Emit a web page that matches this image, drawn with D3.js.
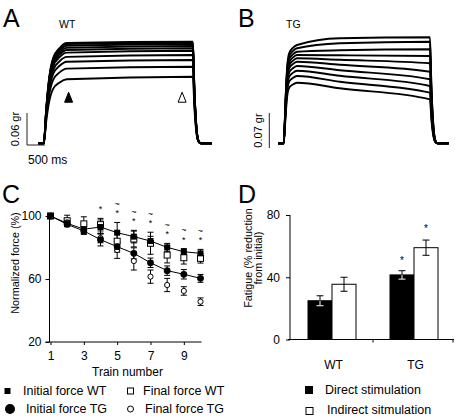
<!DOCTYPE html>
<html><head><meta charset="utf-8">
<script src="https://cdn.jsdelivr.net/npm/d3@7"></script>
<style>
body{margin:0;background:#fff}
text{font-family:"Liberation Sans",Arial,Helvetica,sans-serif;fill:#000}
</style>
</head><body>
<svg id="fig" width="455" height="418"></svg>
<script>
// ---------- Panel A / B : force traces (gr) ----------
const riseTimesA = [160, 230, 300, 420, 600, 800];
const riseFracA  = [0, 0.35, 0.62, 0.85, 0.95, 1];
const riseTimesB = [160, 220, 260, 320, 420, 537];
const riseFracB  = [0, 0.5, 0.78, 0.92, 0.97, 1];
const fallTimes  = [4300, 4340, 4400, 4460, 4520, 4830];
const fallFrac   = [1, 0.55, 0.15, 0.02, 0, 0];
const wtStart = [0.188, 0.186, 0.183, 0.179, 0.175, 0.170, 0.162, 0.153, 0.140, 0.120];
const wtEnd   = [0.1905, 0.1886, 0.1862, 0.1824, 0.1781, 0.1736, 0.1656, 0.1562, 0.1436, 0.1249];
const tgStart = [0.1966, 0.190, 0.1832, 0.1766, 0.170, 0.1632, 0.1546, 0.1452, 0.1346, 0.1212];
const tgMid   = [0.210, 0.200, 0.186, 0.176, 0.167, 0.157, 0.146, 0.135, 0.123, 0.110];
const tgEnd   = [0.212, 0.2032, 0.188, 0.1746, 0.160, 0.1432, 0.128, 0.1146, 0.1012, 0.088];
const arrowTimes = [850, 4000];

// ---------- Panel C ----------
const trains = [1,2,3,4,5,6,7,8,9,10];
const initialWT    = [100, 95.4, 91.6, 93.0, 89.4, 86.9, 84.1, 80.1, 77.3, 76.3];
const initialWTErr = [0, 2, 3, 4.5, 6.5, 4, 3, 2.5, 2, 2.5];
const finalWT      = [100, 97.0, 95.0, 94.5, 84.0, 85.4, 82.7, 75.2, 73.5, 73.1];
const finalWTErr   = [0, 3.5, 4.5, 4, 6, 5, 7, 5, 4, 3];
const initialTG    = [100, 94.7, 90.5, 85.0, 80.5, 76.3, 70.3, 65.3, 63.0, 60.4];
const initialTGErr = [0, 1.5, 2, 4, 3.5, 3.5, 3, 3, 3, 2.5];
const finalTG      = [100, 96.0, 91.0, 86.0, 78.4, 71.4, 61.5, 56.2, 52.4, 45.6];
const finalTGErr   = [0, 2, 2.5, 3, 5.3, 5.7, 4.2, 4.2, 2.7, 2.4];
const starTrains  = [4,5,6,7,8,9,10];
const tildeTrains = [5,6,7,8,9,10];
const cTicksX = [1,3,5,7,9];
const cTicksY = [20,60,100];

// ---------- Panel D ----------
const groups = ["WT","TG"];
const direct = [24.9, 41.5];
const directErr = [3.2, 2.7];
const indirect = [35.5, 59.0];
const indirectErr = [4.5, 4.9];
const dStars = ["TG"];
const dTicksY = [0,40,80];

const svg = d3.select("#fig");

// ===== Panels A & B =====
const xA = d3.scaleLinear().domain([0,4830]).range([38,212]);
const yA = d3.scaleLinear().domain([0,0.06]).range([143.3,111.3]);
const xB = d3.scaleLinear().domain([0,4830]).range([278,448.7]);
const yB = d3.scaleLinear().domain([0,0.07]).range([143.3,108.3]);

function tracePts(riseT, riseF, plateau, end){
  const pts = [[0,0]];
  riseT.forEach((t,j)=>pts.push([t, plateau[0][1]*riseF[j]]));
  plateau.slice(1).forEach(p=>pts.push(p));
  fallTimes.slice(1).forEach((t,j)=>pts.push([t, end*fallFrac[j+1]]));
  return pts;
}
const gA = svg.append("g");
const lineA = d3.line().x(d=>xA(d[0])).y(d=>yA(d[1])).curve(d3.curveMonotoneX);
wtStart.forEach((s,i)=>{
  const pts = tracePts(riseTimesA, riseFracA, [[800,s],[4300,wtEnd[i]]], wtEnd[i]);
  gA.append("path").attr("d",lineA(pts)).attr("fill","none").attr("stroke","#000")
    .attr("stroke-width",1.9).attr("stroke-linejoin","round");
});
const gB = svg.append("g");
const lineB = d3.line().x(d=>xB(d[0])).y(d=>yB(d[1])).curve(d3.curveMonotoneX);
tgStart.forEach((s,i)=>{
  const pts = tracePts(riseTimesB, riseFracB, [[537,s],[1750,tgMid[i]],[4300,tgEnd[i]]], tgEnd[i]);
  gB.append("path").attr("d",lineB(pts)).attr("fill","none").attr("stroke","#000")
    .attr("stroke-width",1.9).attr("stroke-linejoin","round");
});
// arrows
arrowTimes.forEach((t,i)=>{
  const cx = xA(t), by = yA(0.077);
  svg.append("path").attr("d",`M${cx-4},${by}L${cx+4},${by}L${cx},${by-10}Z`)
    .attr("fill", i===0?"#000":"#fff").attr("stroke","#000").attr("stroke-width",1);
});
// scale bars
{
  const bot = yA(0)+1.7, h = yA(0)-yA(0.06), w = xA(500)-xA(0), x0 = 27;
  svg.append("path").attr("d",`M${x0},${bot-h}V${bot}H${x0+w}`).attr("fill","none").attr("stroke","#222").attr("stroke-width",1);
  svg.append("text").attr("transform",`translate(15,${bot-h/2}) rotate(-90)`).attr("text-anchor","middle")
    .attr("dy","0.35em").attr("font-size",11).text("0.06 gr");
  svg.append("text").attr("x",28).attr("y",160).attr("dy","0.35em").attr("font-size",12).text("500 ms");
}
{
  const bot = yB(0)+4.7, h = yB(0)-yB(0.07), x0 = 269.3;
  svg.append("path").attr("d",`M${x0},${bot-h}V${bot}`).attr("stroke","#222").attr("stroke-width",1);
  svg.append("text").attr("transform",`translate(258.3,${bot-h/2}) rotate(-90)`).attr("text-anchor","middle")
    .attr("dy","0.35em").attr("font-size",11).text("0.07 gr");
}
svg.append("text").attr("x",59).attr("y",28).attr("font-size",10.5).text("WT");
svg.append("text").attr("x",286).attr("y",28).attr("font-size",10.5).text("TG");

// panel letters
[["A",3,27],["B",238,27],["C",2,203],["D",238,203]].forEach(([t,x,y])=>
  svg.append("text").attr("x",x).attr("y",y).attr("font-size",25).text(t));

// ===== Panel C =====
const xC = d3.scaleLinear().domain([1,10]).range([50.5,200.5]);
const yC = d3.scaleLinear().domain([20,100]).range([342,216]);
const gC = svg.append("g");
gC.append("line").attr("x1",49.5).attr("x2",49.5).attr("y1",yC(100)).attr("y2",yC(20)).attr("stroke","#000");
gC.append("line").attr("x1",45.5).attr("x2",201.5).attr("y1",yC(20)).attr("y2",yC(20)).attr("stroke","#000");
const axY = gC.append("g").attr("transform","translate(49.5,0)")
  .call(d3.axisLeft(yC).tickValues(cTicksY).tickSize(4).tickPadding(4).tickSizeOuter(0));
const axX = gC.append("g").attr("transform",`translate(0,${yC(20)})`)
  .call(d3.axisBottom(xC).tickValues(cTicksX).tickFormat(d3.format("d")).tickSize(3).tickPadding(6).tickSizeOuter(0));
[axY,axX].forEach(a=>{a.select(".domain").remove(); a.selectAll("text").attr("font-size",12).attr("font-family","Liberation Sans, Arial, sans-serif");});
gC.append("text").attr("transform","translate(15,263) rotate(-90)").attr("text-anchor","middle")
  .attr("dy","0.35em").attr("font-size",10.8).text("Normalized force (%)");
gC.append("text").attr("x",127.5).attr("y",372).attr("text-anchor","middle").attr("dy","0.35em")
  .attr("font-size",12).text("Train number");

const seriesC = [
  {v:finalWT, e:finalWTErr},
  {v:finalTG, e:finalTGErr},
  {v:initialWT, e:initialWTErr},
  {v:initialTG, e:initialTGErr}
];
seriesC.forEach(s=>{
  trains.forEach((t,i)=>{
    if(!s.e[i]) return;
    const x = xC(t), y1 = yC(s.v[i]+s.e[i]), y2 = yC(s.v[i]-s.e[i]);
    gC.append("path").attr("d",`M${x},${y1}V${y2}M${x-3},${y1}H${x+3}M${x-3},${y2}H${x+3}`)
      .attr("stroke","#000").attr("stroke-width",1).attr("fill","none");
  });
});
const lineC = d3.line().x((d,i)=>xC(trains[i])).y(d=>yC(d));
gC.append("path").attr("d",lineC(initialWT)).attr("fill","none").attr("stroke","#000").attr("stroke-width",1);
gC.append("path").attr("d",lineC(initialTG)).attr("fill","none").attr("stroke","#000").attr("stroke-width",1);
trains.forEach((t,i)=>{
  gC.append("rect").attr("x",xC(t)-3).attr("y",yC(finalWT[i])-3).attr("width",6).attr("height",6)
    .attr("fill","#fff").attr("stroke","#000").attr("stroke-width",1);
  gC.append("circle").attr("cx",xC(t)).attr("cy",yC(finalTG[i])).attr("r",2.6)
    .attr("fill","#fff").attr("stroke","#000").attr("stroke-width",1);
});
trains.forEach((t,i)=>{
  gC.append("rect").attr("x",xC(t)-3).attr("y",yC(initialWT[i])-3).attr("width",6).attr("height",6).attr("fill","#000");
  gC.append("circle").attr("cx",xC(t)).attr("cy",yC(initialTG[i])).attr("r",3.4).attr("fill","#000");
});
function topCap(t){
  const i = trains.indexOf(t);
  return Math.max(initialWT[i]+initialWTErr[i], finalWT[i]+finalWTErr[i]);
}
starTrains.forEach(t=>{
  const cy = yC(topCap(t)) - 11;
  gC.append("text").attr("x",xC(t)).attr("y",cy+5).attr("text-anchor","middle").attr("font-size",9).text("*");
  if(tildeTrains.includes(t))
    gC.append("text").attr("x",xC(t)).attr("y",cy-7.5+3).attr("text-anchor","middle").attr("font-size",9).text("~");
});

// legend C
const lg = svg.append("g").attr("font-size",12.5);
lg.append("rect").attr("x",4.5).attr("y",388).attr("width",6).attr("height",6).attr("fill","#000");
lg.append("text").attr("x",23).attr("y",391).attr("dy","0.35em").text("Initial force WT");
lg.append("rect").attr("x",127.5).attr("y",388).attr("width",6).attr("height",6).attr("fill","#fff").attr("stroke","#000");
lg.append("text").attr("x",143).attr("y",391).attr("dy","0.35em").text("Final force WT");
lg.append("circle").attr("cx",10).attr("cy",409).attr("r",5).attr("fill","#000");
lg.append("text").attr("x",26).attr("y",409).attr("dy","0.35em").text("Initial force TG");
lg.append("circle").attr("cx",130.5).attr("cy",409).attr("r",3).attr("fill","#fff").attr("stroke","#000");
lg.append("text").attr("x",145).attr("y",409).attr("dy","0.35em").text("Final force TG");

// ===== Panel D =====
const xD = d3.scaleBand().domain(groups).range([291,455]);
const yD = d3.scaleLinear().domain([0,80]).range([339.5,215]);
const gD = svg.append("g");
const barW = 24;
groups.forEach((g,i)=>{
  const c = xD(g)+xD.bandwidth()/2;
  gD.append("rect").attr("x",c-barW).attr("y",yD(direct[i])).attr("width",barW).attr("height",yD(0)-yD(direct[i]))
    .attr("fill","#000").attr("stroke","#000").attr("stroke-width",1);
  gD.append("rect").attr("x",c).attr("y",yD(indirect[i])).attr("width",barW).attr("height",yD(0)-yD(indirect[i]))
    .attr("fill","#fff").attr("stroke","#000").attr("stroke-width",1);
  [[c-barW/2, direct[i], directErr[i], "#fff"],[c+barW/2, indirect[i], indirectErr[i], "#000"]].forEach(([x,v,e,lowCol])=>{
    const yt = yD(v+e), yv = yD(v), yb = yD(v-e);
    gD.append("path").attr("d",`M${x},${yt}V${yv}M${x-3.5},${yt}H${x+3.5}`).attr("stroke","#000").attr("fill","none");
    gD.append("path").attr("d",`M${x},${yv}V${yb}M${x-3.5},${yb}H${x+3.5}`).attr("stroke",lowCol).attr("fill","none");
  });
  if(dStars.includes(g)){
    gD.append("text").attr("x",c-barW/2).attr("y",yD(direct[i]+directErr[i])-12+5).attr("text-anchor","middle").attr("font-size",10).style("fill","#000").text("*");
    gD.append("text").attr("x",c+barW/2).attr("y",yD(indirect[i]+indirectErr[i])-13+5).attr("text-anchor","middle").attr("font-size",10).style("fill","#000").text("*");
  }
});
gD.append("line").attr("x1",290).attr("x2",290).attr("y1",yD(80)).attr("y2",yD(0)).attr("stroke","#000");
gD.append("line").attr("x1",288).attr("x2",454).attr("y1",yD(0)).attr("y2",yD(0)).attr("stroke","#000");
const axDY = gD.append("g").attr("transform","translate(290,0)")
  .call(d3.axisLeft(yD).tickValues(dTicksY).tickSize(4).tickPadding(6).tickSizeOuter(0));
axDY.select(".domain").remove();
axDY.selectAll("text").attr("font-size",12).attr("font-family","Liberation Sans, Arial, sans-serif");
[xD("TG"), 453].forEach(x=>gD.append("line").attr("x1",x).attr("x2",x).attr("y1",yD(0)).attr("y2",yD(0)+3).attr("stroke","#000"));
groups.forEach(g=>gD.append("text").attr("x",xD(g)+xD.bandwidth()/2+1.5).attr("y",365).attr("dy","0.35em")
  .attr("text-anchor","middle").attr("font-size",12).text(g));
const yt = gD.append("text").attr("transform","translate(0,258) rotate(-90)").attr("text-anchor","middle").attr("font-size",10.8);
yt.append("tspan").attr("x",0).attr("y",248).attr("dy","0.35em").text("Fatigue (% reduction");
yt.append("tspan").attr("x",0).attr("y",258).attr("dy","0.35em").text("from initial)");

// legend D
const ld = svg.append("g").attr("font-size",12.5);
ld.append("rect").attr("x",305).attr("y",386).attr("width",8).attr("height",8).attr("fill","#000");
ld.append("text").attr("x",325).attr("y",390).attr("dy","0.35em").text("Direct stimulation");
ld.append("rect").attr("x",306).attr("y",407.5).attr("width",7).attr("height",7).attr("fill","#fff").attr("stroke","#000");
ld.append("text").attr("x",327).attr("y",410).attr("dy","0.35em").text("Indirect sitmulation");
</script>
</body></html>
